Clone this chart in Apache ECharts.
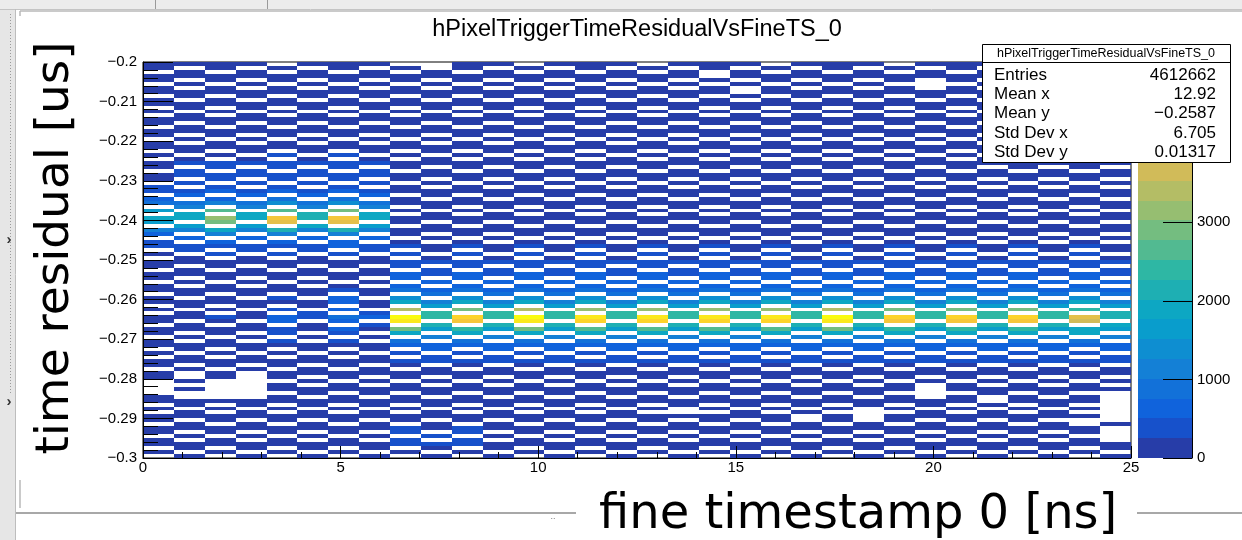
<!DOCTYPE html>
<html>
<head>
<meta charset="utf-8">
<script src="https://cdn.jsdelivr.net/npm/echarts@6/dist/echarts.min.js"></script>
<style>
html,body{margin:0;padding:0;background:#fff;}
#c{width:1242px;height:540px;}
</style>
</head>
<body>
<div id="c"></div>
<script>
// ---------------- data ----------------
const histTitle = 'hPixelTriggerTimeResidualVsFineTS_0';
const xTitle = 'fine timestamp 0 [ns]';
const yTitle = 'time residual [us]';
const xRange = [0, 25];
const yRange = [-0.3, -0.2];
const xBinCount = 32;
const yBinCount = 100;
const zMax = 5040;
const zLevelCount = 20;
const paletteTickValues = [0, 1000, 2000, 3000];
const statsLabels = ['Entries', 'Mean x', 'Mean y', 'Std Dev x', 'Std Dev y'];
const statsValues = ['4612662', '12.92', '\u22120.2587', '6.705', '0.01317'];
// colour level of each bin ('.' = empty, 1..9, a..k = level 10..20)
const levelChars = '.123456789abcdefghijk';
// one string per fine-TS bin (x), rows from y = -0.200 (top) down to -0.300
const binContents = [
"11.11.11.1 1.1.11.11. 11.1.11.11 .22.34.7.8 7.53.22.1. 11.11.11.1 1.1.11.11. 11.1.11.11 ....11.1.1 1.11.11.1.",
"1.11.1.11. 11.11.11.1 .11.12.22. 2.23.45.88 .75.3.22.1 1.11.1.11. 11.11.11.1 .11.11.1.. 1.1..11.11 .11.1.11.1",
"11.11.11.1 1.1.11.11. 11.1.22.22 .23.35.b.d c.85.32.2. 11.11.11.1 1.1.21.11. 11.1.11.11 .....1.1.1 1.11.11.1.",
"1.11.1.11. 11.11.11.1 .11.12.22. 2.23.45.88 .75.3.22.1 1.11.1.11. 11.11.11.1 .11.11.1.. .....11.11 .11.1.11.1",
".1.11.11.1 1.1.11.11. 11.2.22.22 .23.46.b.h g.95.32.2. 11.11.11.2 1.2.33.22. 21.1.11.11 .11.11.1.1 1.11.11.1.",
"1.11.1.11. 11.11.11.1 .11.12.22. 2.23.45.99 .85.3.22.1 1.11.1.11. 11.22.11.1 .11.11.11. 1.11.11.11 .11.1.11.1",
"11.11.11.1 1.1.11.11. 11.2.22.22 .23.46.c.h g.95.33.2. 11.11.12.3 3.3.43.32. 21.1.11.11 .11.11.1.1 1.11.11.1.",
"1.11.1.11. 11.11.11.1 .11.12.22. 2.23.45.88 .75.3.22.1 1.11.1.11. 11.23.21.1 .11.11.11. 1.11.11.11 .11.1.11.1",
".1.11.11.1 1.1.11.11. 11.1.11.11 .11.11.1.1 1.11.12.2. 22.33.34.6 8.e.kj.c8. 43.2.21.11 .11.11.1.1 1.22.22.1.",
"..11.1.11. 11.11.11.1 .11.11.11. 1.11.11.11 .11.1.11.1 2.22.3.34. 57.aa.97.5 .33.22.11. 1.11.11.11 .11.2.21.1",
"11.11.11.1 1.1.11.11. 11.1.11.11 .11.11.1.1 1.11.12.2. 22.33.34.6 8.c.ih.a8. 43.2.21.11 .11.11.1.1 1.22.22.1.",
"1.11.1.11. 11.11.11.1 .11.11.11. 1.11.11.11 .11.1.11.1 2.22.3.34. 57.aa.97.5 .33.22.11. 1.11.11.11 .11.1.11.1",
".1.11.11.1 1.1.11.11. 11.1.11.11 .11.11.1.1 1.11.12.2. 22.33.34.6 8.e.kj.c8. 43.2.21.11 .11.11.1.1 1.11.11.1.",
"1.11.1.11. 11.11.11.1 .11.11.11. 1.11.11.11 .11.1.11.1 2.22.3.34. 57.aa.97.5 .33.22.11. 1.11.11.11 .11.1.11.1",
"11.11.11.1 1.1.11.11. 11.1.11.11 .11.11.1.1 1.11.12.2. 22.33.34.6 8.d.ji.b8. 43.2.21.11 .11.11.1.1 1.11.11.1.",
"1.11.1.11. 11.11.11.1 .11.11.11. 1.11.11.11 .11.1.11.1 2.22.3.34. 57.aa.97.5 .33.22.11. 1.11.11.11 .11.1.11.1",
".1.11.11.1 1.1.11.11. 11.1.11.11 .11.11.1.1 1.11.12.2. 22.33.34.6 8.d.ji.b8. 43.2.21.11 .11.11.1.1 1.11.11.1.",
"1.11.1.11. 11.11.11.1 .11.11.11. 1.11.11.11 .11.1.11.1 2.22.3.34. 57.aa.97.5 .33.22.11. 1.11.11..1 .11.1.11.1",
"11..1.11.1 1.1.11.11. 11.1.11.11 .11.11.1.1 1.11.12.2. 22.33.34.6 8.d.ji.b8. 43.2.21.11 .11.11.1.1 1.11.11.1.",
"1.11.1..1. 11.11.11.1 .11.11.11. 1.11.11.11 .11.1.11.1 2.22.3.34. 57.aa.97.5 .33.22.11. 1.11.11.11 .11.1.11.1",
".1.11.11.1 1.1.11.11. 11.1.11.11 .11.11.1.1 1.11.12.2. 22.33.34.6 8.d.ji.b8. 43.2.21.11 .11.11.1.1 1.11.11.1.",
"1.11.1.11. 11.11.11.1 .11.11.11. 1.11.11.11 .11.1.11.1 2.22.3.34. 57.aa.97.5 .33.22.11. 1.11.11.1. .11.1.11.1",
"11.11.11.1 1.1.11.11. 11.1.11.11 .11.11.1.1 1.11.12.2. 22.33.34.6 8.e.kj.c8. 43.2.21.11 .11.11.1.1 1.11.11.1.",
"1.11.1.11. 11.11.11.1 .11.11.11. 1.11.11.11 .11.1.11.1 2.22.3.34. 57.aa.97.5 .33.22.11. 1.11.11... .11.1.11.1",
".1.11.11.1 1.1.11.11. 11.1.11.11 .11.11.1.1 1.11.12.2. 22.33.34.6 8.c.ih.a8. 43.2.21.11 .11.11.1.1 1.11.11.1.",
"1.11...11. 11.11.11.1 .11.11.11. 1.11.11.11 .11.1.11.1 2.22.3.34. 57.aa.97.5 .33.22.11. 1....11.11 .11.1.11.1",
"11.11.11.1 1.1.11.11. 11.1.11.11 .11.11.1.1 1.11.12.2. 22.33.34.6 8.c.ih.a8. 43.2.21.11 .11.11.1.1 1.11.11.1.",
"1.11.1.11. 11.11.11.1 .11.11.11. 1.11.11.11 .11.1.11.1 2.22.3.34. 57.aa.97.5 .33.22.11. 1.11..1.11 .11.1.11.1",
".1.11.11.1 1.1.11.11. 11.1.11.11 .11.11.1.1 1.11.12.2. 22.33.34.6 8.c.ih.a8. 43.2.21.11 .11.11.1.1 1.11.11.1.",
"1.11.1.11. 11.11.11.1 .11.11.11. 1.11.11.11 .11.1.11.1 2.22.3.34. 57.aa.97.5 .33.22.11. 1.11.11.11 .11.1.11.1",
"11.11.11.1 1.1.11.11. 11.1.11.11 .11.11.1.1 1.11.12.2. 22.33.34.6 8.a.gf.88. 43.2.21.11 .11.11.1.1 ..11.11.1.",
"1.11.1.11. 11.11.11.1 .11.11.11. 1.11.11.11 .11.1.11.1 2.22.3.34. 57.99.87.5 .33.22.11. 1.1....... .1....11.1"
];

// ---------------- style: ROOT kBird palette ----------------
const birdStops = [0.0, 0.125, 0.25, 0.375, 0.5, 0.625, 0.75, 0.875, 1.0];
const birdRed   = [0.2082, 0.0592, 0.0780, 0.0232, 0.1802, 0.5301, 0.8186, 0.9956, 0.9764];
const birdGreen = [0.1664, 0.3599, 0.5041, 0.6419, 0.7178, 0.7492, 0.7328, 0.7862, 0.9832];
const birdBlue  = [0.5293, 0.8684, 0.8385, 0.7914, 0.6425, 0.4662, 0.3499, 0.1968, 0.0539];
function bird(f) {
  for (let k = 0; k < birdStops.length - 1; k++) {
    if (f <= birdStops[k + 1] + 1e-9) {
      const t = (f - birdStops[k]) / (birdStops[k + 1] - birdStops[k]);
      const c = a => Math.round(255 * (a[k] + (a[k + 1] - a[k]) * t));
      return 'rgb(' + c(birdRed) + ',' + c(birdGreen) + ',' + c(birdBlue) + ')';
    }
  }
  return 'rgb(249,251,14)';
}
const levelColors = [];
for (let i = 0; i < zLevelCount; i++) {
  const j = Math.floor((i + 0.99) * 255 / zLevelCount);
  levelColors.push(bird(Math.min(1, j / 254)));
}
const bandWidth = zMax / zLevelCount;
function colorFor(v) {
  return levelColors[Math.max(0, Math.min(zLevelCount - 1, Math.floor(v / bandWidth)))];
}

// ---------------- build series data ----------------
const bw = (xRange[1] - xRange[0]) / xBinCount;
const bh = (yRange[1] - yRange[0]) / yBinCount;
const cells = [];
binContents.forEach((s, c) => {
  const t = s.replace(/ /g, '');
  for (let r = 0; r < t.length; r++) {
    const L = levelChars.indexOf(t[r]);
    if (L > 0) cells.push([xRange[0] + c * bw, yRange[1] - r * bh, (L - 0.5) * bandWidth]);
  }
});
const paletteBands = [];
for (let i = 0; i < zLevelCount; i++) paletteBands.push([0.5, i * bandWidth, (i + 1) * bandWidth]);

const rootFont = 'Liberation Sans, Arial, Helvetica, sans-serif';
const bigFont = 'DejaVu Sans, Verdana, sans-serif';

function txt(x, y, text, size, opts) {
  return Object.assign({
    type: 'text', x: x, y: y, z: 100,
    style: Object.assign({ text: text, fontSize: size, fontFamily: rootFont, fill: '#000',
      align: 'left', verticalAlign: 'middle' }, (opts && opts.style) || {})
  }, (opts && opts.el) || {});
}
function ln(x1, y1, x2, y2, color, w, extra) {
  return { type: 'line', z: 100, shape: { x1: x1, y1: y1, x2: x2, y2: y2 },
    style: Object.assign({ stroke: color, lineWidth: w || 1 }, extra || {}) };
}

const graphics = [
  // window chrome
  { type: 'rect', z: 99, shape: { x: 0, y: 0, width: 1242, height: 9 }, style: { fill: '#ececec' } },
  ln(0, 9.5, 1242, 9.5, '#c4c4c4', 1),
  ln(155.5, 0, 155.5, 9, '#9a9a9a', 1),
  ln(267.5, 0, 267.5, 9, '#9a9a9a', 1),
  { type: 'rect', z: 99, shape: { x: 0, y: 9, width: 15, height: 531 }, style: { fill: '#e6e6e6' } },
  ln(15.5, 9, 15.5, 540, '#bdbdbd', 1),
  ln(10.5, 14, 10.5, 393, '#9a9a9a', 1, { lineDash: [1, 2] }),
  txt(9, 240, '\u203a', 15, { style: { align: 'center', fontWeight: 'bold', fill: '#333' } }),
  txt(9, 402, '\u203a', 15, { style: { align: 'center', fontWeight: 'bold', fill: '#333' } }),
  ln(20, 11, 1242, 11, '#b8b8b8', 1.5),
  ln(20, 11, 20, 16, '#b8b8b8', 1.5),
  ln(20, 480, 20, 508, '#b8b8b8', 1.5),
  ln(16, 513, 576, 513, '#a8a8a8', 2),
  ln(1137, 513, 1242, 513, '#a8a8a8', 2),
  txt(553, 517, '..', 9, { style: { align: 'center', fill: '#777' } }),
  // titles
  txt(637, 30, histTitle, 23.5, { style: { align: 'center' } }),
  txt(56, 248, yTitle, 47, { style: { align: 'center', fontFamily: bigFont }, el: { rotation: Math.PI / 2 } }),
  txt(599, 516, xTitle, 48, { style: { fontFamily: bigFont } }),
  // stats box
  { type: 'rect', z: 100, shape: { x: 982.5, y: 44.5, width: 248, height: 118 },
    style: { fill: '#fff', stroke: '#000', lineWidth: 1 } },
  ln(982.5, 62.5, 1230.5, 62.5, '#000', 1),
  txt(1106, 53.5, histTitle, 12.5, { style: { align: 'center' } })
];
statsLabels.forEach((lab, i) => {
  const y = 75 + i * 19.4;
  graphics.push(txt(994, y, lab, 17));
  graphics.push(txt(1216, y, statsValues[i], 17, { style: { align: 'right' } }));
});

const axisBlack = { color: '#000', width: 1 };
const labelStyle = { fontSize: 15, fontFamily: rootFont, color: '#000' };

const option = {
  animation: false,
  backgroundColor: '#ffffff',
  grid: [
    { left: 143, top: 62, width: 988, height: 396, show: true, borderColor: '#000', borderWidth: 1, backgroundColor: '#fff' },
    { left: 1138, top: 62, width: 54, height: 396, show: false }
  ],
  xAxis: [
    { type: 'value', gridIndex: 0, min: xRange[0], max: xRange[1], interval: 5, z: 10,
      axisLine: { show: true, onZero: false, lineStyle: axisBlack },
      axisTick: { show: true, inside: true, length: 12, lineStyle: axisBlack },
      minorTick: { show: true, splitNumber: 5, length: 6, lineStyle: axisBlack },
      axisLabel: Object.assign({ margin: 2 }, labelStyle),
      splitLine: { show: false }, minorSplitLine: { show: false } },
    { type: 'value', gridIndex: 1, min: 0, max: 1, show: false }
  ],
  yAxis: [
    { type: 'value', gridIndex: 0, min: yRange[0], max: yRange[1], interval: 0.01, z: 10,
      axisLine: { show: true, onZero: false, lineStyle: axisBlack },
      axisTick: { show: true, inside: true, length: 30, lineStyle: axisBlack },
      minorTick: { show: true, splitNumber: 5, length: 15, lineStyle: axisBlack },
      axisLabel: Object.assign({ margin: 6,
        formatter: v => (v < 0 ? '\u2212' : '') + String(Number(Math.abs(v).toFixed(3))) }, labelStyle),
      splitLine: { show: false }, minorSplitLine: { show: false } },
    { type: 'value', gridIndex: 1, position: 'right', min: 0, max: zMax, interval: 1000, z: 10,
      axisLine: { show: true, onZero: false, lineStyle: axisBlack },
      axisTick: { show: true, inside: true, length: 29, lineStyle: axisBlack },
      axisLabel: Object.assign({ margin: 5,
        formatter: v => paletteTickValues.indexOf(v) >= 0 ? String(v) : '' }, labelStyle),
      splitLine: { show: false } }
  ],
  series: [
    { type: 'custom', name: 'hist', xAxisIndex: 0, yAxisIndex: 0, z: 2, progressive: 0,
      encode: { x: 0, y: 1 }, data: cells,
      renderItem: function (params, api) {
        const x0 = api.value(0), yTop = api.value(1), v = api.value(2);
        const p0 = api.coord([x0, yTop]);
        const p1 = api.coord([x0 + bw, yTop - bh]);
        const x = Math.round(p0[0]), y = Math.round(p0[1]);
        return { type: 'rect',
          shape: { x: x, y: y, width: Math.round(p1[0]) - x, height: Math.round(p1[1]) - y },
          style: { fill: colorFor(v) } };
      } },
    { type: 'custom', name: 'palette', xAxisIndex: 1, yAxisIndex: 1, z: 2, progressive: 0,
      encode: { x: 0, y: [1, 2] }, data: paletteBands,
      renderItem: function (params, api) {
        const lo = api.value(1), hi = api.value(2);
        const p0 = api.coord([0, hi]);
        const p1 = api.coord([1, lo]);
        const x = Math.round(p0[0]), y = Math.round(p0[1]);
        return { type: 'rect',
          shape: { x: x, y: y, width: Math.round(p1[0]) - x, height: Math.round(p1[1]) - y },
          style: { fill: colorFor((lo + hi) / 2) } };
      } }
  ],
  graphic: { elements: graphics }
};

const chart = echarts.init(document.getElementById('c'), null, { renderer: 'canvas', width: 1242, height: 540 });
chart.setOption(option);
</script>
</body>
</html>
